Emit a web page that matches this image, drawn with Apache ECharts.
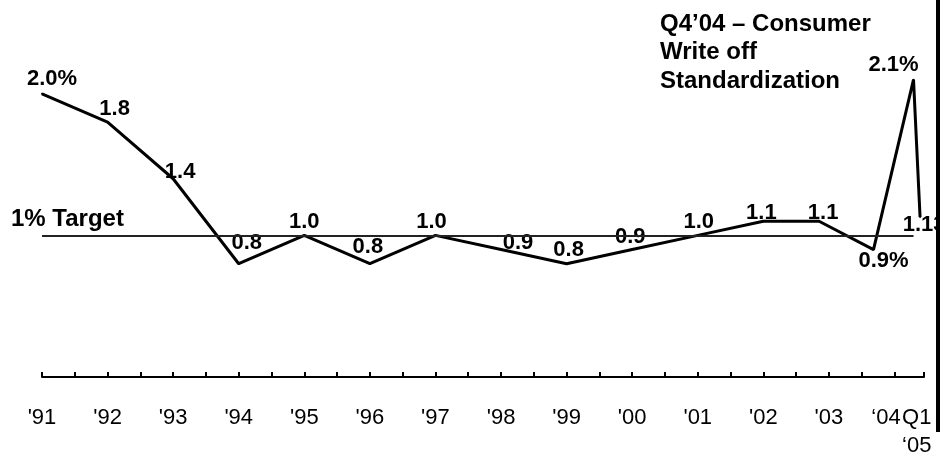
<!DOCTYPE html>
<html>
<head>
<meta charset="utf-8">
<script src="https://cdn.jsdelivr.net/npm/echarts@6/dist/echarts.min.js"></script>
<style>
  html, body { margin: 0; padding: 0; background: #fff; }
  #chart { width: 940px; height: 454px; }
</style>
</head>
<body>
<div id="chart"></div>
<script>
// Net write-off rate (%), yearly from 1991, then quarterly marks around 2004
const periods = [1991, 1992, 1993, 1994, 1995, 1996, 1997, 1998, 1999, 2000, 2001, 2002, 2002.85, 2003.68, 2004.29, 2004.39];
const rates   = [2.0, 1.8, 1.4, 0.8, 1.0, 0.8, 1.0, 0.9, 0.8, 0.9, 1.0, 1.1, 1.1, 0.9, 2.1, 1.13];
const percentMarks = [0, 13, 14];          // points whose label carries a % sign
const twoDecimalMarks = [15];

// Axis tick labels
const tickPositions = [1991, 1992, 1993, 1994, 1995, 1996, 1997, 1998, 1999, 2000, 2001, 2002, 2003, 2003.87, 2004.34];
const tickLabels = ["'91", "'92", "'93", "'94", "'95", "'96", "'97", "'98", "'99", "'00", "'01", "'02", "'03", "\u201804", "Q1\n\u201805"];

const targetRate = 1.0;
const targetSpan = [1991, 2004.29];

// Label offsets (px) from each point, in drawing order
const labelOffsets = [[10, -15], [7, -13], [7, -7], [8, -21], [0, -13], [-2, -17], [-4, -13], [17, -7],
                      [2, -14], [-2, -13], [1, -13], [-2, -8], [4, -8], [10, 11], [-20, -15], [4, 8]];

const ticksHalfYear = [];
for (let y = 1991; y <= 2004; y += 0.5) ticksHalfYear.push(y);
ticksHalfYear.push(2004.45);

const FONT = '"Liberation Sans", Arial, Helvetica, sans-serif';

const seriesData = rates.map((v, i) => ({
  value: [periods[i], v],
  label: { offset: labelOffsets[i] }
}));

const chart = echarts.init(document.getElementById('chart'), null, { renderer: 'canvas' });

chart.setOption({
  animation: false,
  backgroundColor: '#ffffff',
  grid: { left: 42, right: 16, top: 23, bottom: 77, containLabel: false, outerBoundsMode: 'none' },
  xAxis: {
    type: 'value',
    min: 1991,
    max: 2004.45,
    splitLine: { show: false },
    axisLine: { show: true, lineStyle: { color: '#000', width: 2 } },
    axisTick: {
      show: true, inside: true, length: 5,
      customValues: ticksHalfYear,
      lineStyle: { color: '#000', width: 2 }
    },
    axisLabel: {
      show: true,
      customValues: tickPositions,
      margin: 27,
      color: '#000',
      fontFamily: FONT,
      fontSize: 22,
      lineHeight: 28,
      formatter: function (val) {
        const idx = tickPositions.findIndex(p => Math.abs(p - val) < 1e-6);
        return idx >= 0 ? tickLabels[idx] : '';
      }
    }
  },
  yAxis: {
    type: 'value',
    min: 0,
    max: 2.5,
    show: false,
    splitLine: { show: false }
  },
  series: [{
    type: 'line',
    data: seriesData,
    clip: false,
    symbol: 'circle',
    symbolSize: 2,
    itemStyle: { color: '#000' },
    lineStyle: { color: '#000', width: 3 },
    label: {
      show: true,
      position: 'inside',
      color: '#000',
      fontFamily: FONT,
      fontWeight: 'bold',
      fontSize: 22,
      formatter: function (p) {
        const i = p.dataIndex;
        const dec = twoDecimalMarks.includes(i) ? 2 : 1;
        return rates[i].toFixed(dec) + (percentMarks.includes(i) ? '%' : '');
      }
    },
    markLine: {
      silent: true,
      symbol: ['none', 'none'],
      lineStyle: { color: '#222', width: 2, type: 'solid' },
      label: {
        show: true,
        position: 'insideStartTop',
        formatter: '1% Target',
        color: '#000',
        fontFamily: FONT,
        fontWeight: 'bold',
        fontSize: 24,
        distance: 4,
        offset: [-35, 0]
      },
      data: [[
        { coord: [targetSpan[0], targetRate] },
        { coord: [targetSpan[1], targetRate] }
      ]]
    },
    z: 3
  }],
  graphic: [
    {
      type: 'text',
      left: 660,
      top: 10,
      z: 10,
      style: {
        text: 'Q4\u201904 \u2013 Consumer\nWrite off\nStandardization',
        fill: '#000',
        font: 'bold 24px ' + FONT,
        lineHeight: 28.5
      }
    },
    {
      type: 'rect',
      z: 20,
      shape: { x: 936, y: 0, width: 4, height: 432 },
      style: { fill: '#000' }
    }
  ]
});
</script>
</body>
</html>
